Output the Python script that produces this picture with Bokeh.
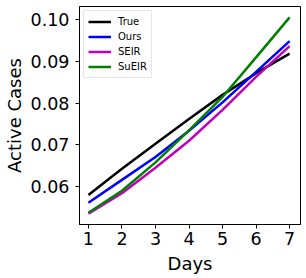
from bokeh.plotting import figure
from bokeh.models import FixedTicker, Range1d, Legend, LegendItem, PrintfTickFormatter
from bokeh.embed import file_html
from bokeh.resources import INLINE

days = [1, 2, 3, 4, 5, 6, 7]
true_vals = [0.0580, 0.0643, 0.0703, 0.0762, 0.0820, 0.0872, 0.0919]
ours_vals = [0.0561, 0.0616, 0.0671, 0.0734, 0.0802, 0.0875, 0.0949]
seir_vals = [0.0535, 0.0584, 0.0645, 0.0710, 0.0784, 0.0863, 0.0937]
sueir_vals = [0.0537, 0.0590, 0.0658, 0.0735, 0.0815, 0.0910, 0.1006]
x_ticks = [1, 2, 3, 4, 5, 6, 7]
y_ticks = [0.06, 0.07, 0.08, 0.09, 0.10]

series = [
    ("True", true_vals, "#000000"),
    ("Ours", ours_vals, "#0000ff"),
    ("SEIR", seir_vals, "#bf00bf"),
    ("SuEIR", sueir_vals, "#008000"),
]

p = figure(width=306, height=278, output_backend="svg", toolbar_location=None,
           x_range=Range1d(0.734, 7.325), y_range=Range1d(0.0509, 0.1032),
           min_border_left=77, min_border_right=6, min_border_top=6, min_border_bottom=54)

items = []
for name, vals, col in series:
    r = p.line(days, vals, line_color=col, line_width=2.5)
    items.append(LegendItem(label=name, renderers=[r]))

legend = Legend(items=items, location="top_left")
legend.label_text_font = "DejaVu Sans"
legend.label_text_font_size = "10px"
legend.label_text_color = "black"
legend.glyph_width = 23
legend.glyph_height = 13
legend.label_height = 13
legend.label_standoff = 7
legend.spacing = 2
legend.padding = 4
legend.margin = 4
legend.border_line_color = "#cccccc"
legend.border_line_width = 1
legend.background_fill_alpha = 0.8
p.add_layout(legend)

p.grid.visible = False
p.outline_line_color = "black"
p.outline_line_width = 1
p.background_fill_color = "white"
p.border_fill_color = "white"

p.xaxis.ticker = FixedTicker(ticks=x_ticks)
p.yaxis.ticker = FixedTicker(ticks=y_ticks)
p.yaxis.formatter = PrintfTickFormatter(format="%.2f")

for ax in (p.xaxis[0], p.yaxis[0]):
    ax.major_tick_in = 0
    ax.major_tick_out = 4
    ax.minor_tick_in = 0
    ax.minor_tick_out = 0
    ax.major_label_text_font = "DejaVu Sans"
    ax.major_label_text_font_size = "17.5px"
    ax.major_label_text_color = "black"
    ax.axis_label_text_font = "DejaVu Sans"
    ax.axis_label_text_font_size = "18px"
    ax.axis_label_text_font_style = "normal"
    ax.axis_label_text_color = "black"
    ax.axis_line_color = "black"
    ax.major_tick_line_color = "black"

p.xaxis.axis_label = "Days"
p.yaxis.axis_label = "Active Cases"
p.xaxis.major_label_standoff = 3
p.yaxis.major_label_standoff = 6
p.xaxis.axis_label_standoff = 5
p.yaxis.axis_label_standoff = 3

open("out.html", "w").write(file_html(p, INLINE))
